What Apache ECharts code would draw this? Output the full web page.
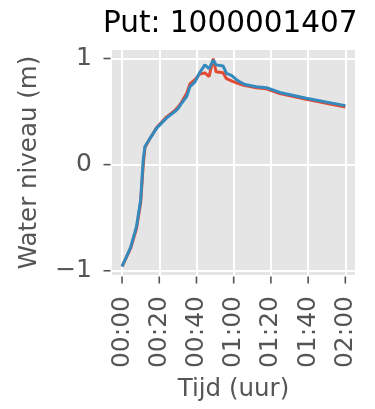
<!DOCTYPE html>
<html>
<head>
<meta charset="utf-8">
<script src="https://cdn.jsdelivr.net/npm/echarts@6/dist/echarts.min.js"></script>
<style>
    html, body { margin: 0; padding: 0; background: #fff; }
    #chart { width: 375px; height: 409px; }
</style>
</head>
<body>
<div id="chart"></div>
<script>
// tijd in minuten sinds start
const minutes = [0, 4.6, 7.8, 10, 11.4, 12.3, 14.6, 18.6, 24, 28.4, 30.2, 32, 34.7, 36.5, 39.2, 41.5,
    44.5, 46.8, 49, 50.5, 54.3, 56.1, 58.8, 61.5, 63.3, 66, 72.2, 77.6, 84.8, 99, 120];
const redLevel = [-0.96, -0.79, -0.60, -0.36, 0.0, 0.16, 0.235, 0.35, 0.45, 0.51, 0.545, 0.59, 0.67, 0.76, 0.80, 0.85,
    0.865, 0.83, 1.0, 0.875, 0.865, 0.81, 0.79, 0.77, 0.76, 0.745, 0.725, 0.715, 0.67, 0.615, 0.543];
const blueLevel = [-0.96, -0.78, -0.58, -0.33, 0.05, 0.17, 0.235, 0.344, 0.44, 0.50, 0.53, 0.578, 0.64, 0.735, 0.78, 0.86,
    0.94, 0.905, 0.985, 0.94, 0.93, 0.86, 0.84, 0.80, 0.78, 0.755, 0.734, 0.725, 0.68, 0.625, 0.556];
const xTicks = [0, 20, 40, 60, 80, 100, 120];
const yTicks = [-1, 0, 1];

const FONT = 'DejaVu Sans';
const GREY = '#555555';
const X_MIN = -5.4, X_MAX = 125.2;
const Y_MIN = -1.04, Y_MAX = 1.08;

function fmtTime(m) {
    const h = Math.floor(m / 60);
    const mm = Math.round(m % 60);
    return String(h).padStart(2, '0') + ':' + String(mm).padStart(2, '0');
}

function fmtY(v) {
    return v < 0 ? '\u2212' + Math.abs(v) : String(v);
}

// tickstreepjes buiten het plotvlak als kleine rechthoekjes op de asrand
function tickSeries(data, size, offset) {
    return {
        type: 'scatter',
        data,
        clip: false,
        silent: true,
        symbol: 'rect',
        symbolSize: size,
        symbolOffset: offset,
        itemStyle: { color: GREY, opacity: 1 },
        z: 5
    };
}

const chart = echarts.init(document.getElementById('chart'));

chart.setOption({
    animation: false,
    backgroundColor: '#ffffff',
    textStyle: { fontFamily: FONT },
    title: {
        text: 'Put: 1000001407',
        left: 98,
        top: 4,
        textStyle: { fontFamily: FONT, fontSize: 29.5, fontWeight: 'normal', color: '#000' }
    },
    grid: { left: 112, right: 20, top: 50, bottom: 134, show: true, backgroundColor: '#E5E5E5', borderWidth: 0 },
    xAxis: {
        type: 'value',
        min: X_MIN,
        max: X_MAX,
        name: 'Tijd (uur)',
        nameLocation: 'middle',
        nameGap: 102,
        nameTextStyle: { fontFamily: FONT, fontSize: 24.5, color: GREY },
        axisLine: { show: false, onZero: false },
        axisTick: { show: false, customValues: xTicks },
        axisLabel: {
            customValues: xTicks,
            rotate: 90,
            margin: 21,
            fontFamily: FONT,
            fontSize: 25,
            color: GREY,
            formatter: v => fmtTime(v)
        },
        splitLine: { show: true, lineStyle: { color: '#ffffff', width: 2 } }
    },
    yAxis: {
        type: 'value',
        min: Y_MIN,
        max: Y_MAX,
        name: 'Water niveau (m)',
        nameLocation: 'middle',
        nameGap: 70,
        nameTextStyle: { fontFamily: FONT, fontSize: 24.5, color: GREY },
        axisLine: { show: false, onZero: false },
        axisTick: { show: false, customValues: yTicks },
        axisLabel: {
            customValues: yTicks,
            margin: 20,
            fontFamily: FONT,
            fontSize: 25,
            color: GREY,
            formatter: v => fmtY(v)
        },
        splitLine: { show: true, lineStyle: { color: '#ffffff', width: 2 } }
    },
    series: [
        {
            type: 'line',
            data: minutes.map((m, i) => [m, redLevel[i]]),
            showSymbol: false,
            lineStyle: { color: '#E24A33', width: 3 },
            itemStyle: { color: '#E24A33' }
        },
        {
            type: 'line',
            data: minutes.map((m, i) => [m, blueLevel[i]]),
            showSymbol: false,
            lineStyle: { color: '#348ABD', width: 3 },
            itemStyle: { color: '#348ABD' }
        },
        tickSeries(xTicks.map(v => [v, Y_MIN]), [1.6, 7], [0, 5]),
        tickSeries(yTicks.map(v => [X_MIN, v]), [7, 1.6], [-5, 0])
    ]
});
</script>
</body>
</html>
